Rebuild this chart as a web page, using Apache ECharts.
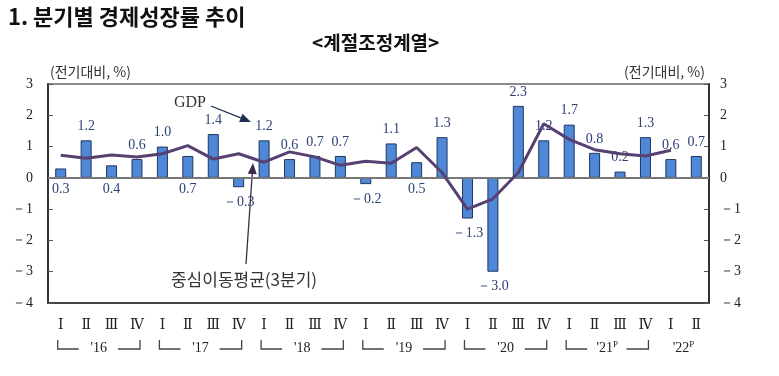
<!DOCTYPE html>
<html>
<head>
<meta charset="utf-8">
<title>분기별 경제성장률 추이</title>
<script src="https://cdn.jsdelivr.net/npm/echarts@6/dist/echarts.min.js"></script>
<style>
html, body { margin: 0; padding: 0; background: #fff; }
#chart { width: 779px; height: 376px; }
</style>
</head>
<body>
<div id="chart"></div>
<script>
// 분기 (2016 Ⅰ ~ 2022 Ⅱ)
var quarters = ['16.1', '16.2', '16.3', '16.4', '17.1', '17.2', '17.3', '17.4',
    '18.1', '18.2', '18.3', '18.4', '19.1', '19.2', '19.3', '19.4',
    '20.1', '20.2', '20.3', '20.4', '21.1', '21.2', '21.3', '21.4', '22.1', '22.2'];
var quarterNames = ['Ⅰ', 'Ⅱ', 'Ⅲ', 'Ⅳ'];
var years = ["'16", "'17", "'18", "'19", "'20", "'21", "'22"];
var yearMarks = ['', '', '', '', '', 'P', 'P'];

// GDP 전기대비 성장률 (%)
var gdp = [0.3, 1.2, 0.4, 0.6, 1.0, 0.7, 1.4, -0.3, 1.2, 0.6, 0.7, 0.7,
    -0.2, 1.1, 0.5, 1.3, -1.3, -3.0, 2.3, 1.2, 1.7, 0.8, 0.2, 1.3, 0.6, 0.7];

// 중심이동평균(3분기)
var movingAvg = [0.72, 0.63, 0.73, 0.67, 0.77, 1.03, 0.60, 0.77, 0.50, 0.83, 0.67, 0.40,
    0.53, 0.47, 0.97, 0.17, -1.00, -0.67, 0.17, 1.73, 1.23, 0.90, 0.77, 0.70, 0.88, null];

// 세로축 범위
var yMin = -4;
var yMax = 3;

// 막대 아래쪽에 값을 적는 분기
var labelBelow = [0, 2, 5, 14];

var serif = '"Liberation Serif", "DejaVu Serif", serif';
var hangul = '"Noto Sans CJK KR", sans-serif';

function fmtVal(v) {
    return v < 0 ? '－' + Math.abs(v).toFixed(1) : v.toFixed(1);
}

function fmtTick(v) {
    return v < 0 ? '－' + Math.abs(v) : '' + v;
}

function barData() {
    var list = [];
    for (var i = 0; i < gdp.length; i++) {
        var item = { value: gdp[i] };
        if (gdp[i] < 0) {
            item.label = { position: 'bottom', distance: 8 };
        } else if (labelBelow.indexOf(i) >= 0) {
            item.label = { position: 'bottom', distance: 4 };
        }
        list.push(item);
    }
    return list;
}

function arrow(x1, y1, x2, y2, color) {
    var ang = Math.atan2(y2 - y1, x2 - x1);
    var len = 11, half = 4.5;
    var bx = x2 - len * Math.cos(ang), by = y2 - len * Math.sin(ang);
    var px = -Math.sin(ang) * half, py = Math.cos(ang) * half;
    return [{
        type: 'line', silent: true,
        shape: { x1: x1, y1: y1, x2: bx, y2: by },
        style: { stroke: color, lineWidth: 1.3 }
    }, {
        type: 'polygon', silent: true,
        shape: { points: [[x2, y2], [bx + px, by + py], [bx - px, by - py]] },
        style: { fill: color }
    }];
}

var myChart = echarts.init(document.getElementById('chart'));

var yAxisBase = {
    type: 'value',
    min: yMin,
    max: yMax,
    interval: 1,
    axisLine: { show: true, lineStyle: { color: '#333', width: 2 } },
    axisTick: { show: true, inside: true, length: 5, lineStyle: { color: '#555' } },
    splitLine: { show: false },
    axisLabel: {
        formatter: fmtTick,
        color: '#222',
        fontFamily: serif,
        fontSize: 14
    },
    nameTextStyle: { color: '#333', fontFamily: hangul, fontSize: 14 }
};

myChart.setOption({
    animation: false,
    backgroundColor: '#fff',
    grid: {
        left: 48, right: 70, top: 84, bottom: 73,
        show: true, borderColor: '#666', borderWidth: 1.5
    },
    xAxis: {
        type: 'category',
        data: quarters,
        axisLine: { show: true, onZero: false, lineStyle: { color: '#444', width: 2 } },
        axisTick: { show: false },
        axisLabel: {
            margin: 15,
            color: '#222',
            fontFamily: serif,
            fontSize: 14,
            formatter: function (val, idx) {
                return quarterNames[idx % 4];
            }
        }
    },
    yAxis: [
        echarts.util.merge({
            position: 'left',
            name: '(전기대비, %)',
            nameGap: 5,
            nameTextStyle: { align: 'left', padding: [0, 0, 0, 2] },
            axisLabel: { margin: 15 }
        }, yAxisBase),
        echarts.util.merge({
            position: 'right',
            name: '(전기대비, %)',
            nameGap: 5,
            nameTextStyle: { align: 'right', padding: [0, 4, 0, 0] },
            axisLabel: { margin: 11 }
        }, yAxisBase)
    ],
    series: [{
        name: 'GDP',
        type: 'bar',
        barWidth: 11,
        itemStyle: { color: '#4f88d6', borderColor: '#1f3560', borderWidth: 1 },
        label: {
            show: true,
            position: 'top',
            distance: 7,
            formatter: function (p) { return fmtVal(p.value); },
            color: '#2d4177',
            fontFamily: serif,
            fontSize: 14
        },
        markLine: {
            silent: true,
            symbol: 'none',
            label: { show: false },
            lineStyle: { color: '#777', width: 2, type: 'solid' },
            data: [{ yAxis: 0 }]
        },
        data: barData(),
        z: 2
    }, {
        name: '중심이동평균(3분기)',
        type: 'line',
        data: movingAvg,
        showSymbol: false,
        symbol: 'none',
        lineStyle: { color: '#574172', width: 3 },
        z: 5
    }]
});

// 제목, 주석, 연도 구분선
var gfx = [{
    type: 'text', left: 8, top: 6,
    style: { text: '1. 분기별 경제성장률 추이', fontFamily: hangul, fontWeight: 'bold', fontSize: 22, fill: '#111' }
}, {
    type: 'text', left: 312, top: 33,
    style: { text: '<계절조정계열>', fontFamily: hangul, fontWeight: 'bold', fontSize: 19, fill: '#111' }
}, {
    type: 'text', x: 190, y: 103,
    style: { text: 'GDP', fontFamily: serif, fontSize: 16, fill: '#333', align: 'center', verticalAlign: 'middle' }
}, {
    type: 'text', x: 244, y: 280,
    style: { text: '중심이동평균(3분기)', fontFamily: hangul, fontSize: 17, fill: '#333', align: 'center', verticalAlign: 'middle' }
}];
gfx = gfx.concat(arrow(211, 106, 251, 122, '#1f2f50'));
gfx = gfx.concat(arrow(246, 264, 253, 163, '#3b2a4a'));

for (var k = 0; k < years.length; k++) {
    var first = k * 4;
    var last = Math.min(first + 3, quarters.length - 1);
    var x1 = myChart.convertToPixel({ xAxisIndex: 0 }, first) - 3;
    var x2 = myChart.convertToPixel({ xAxisIndex: 0 }, last) + 3;
    var mid = (x1 + x2) / 2;
    var yTop = 340, yLine = 349;
    if (last - first === 3) {
        gfx.push({
            type: 'polyline', silent: true,
            shape: { points: [[x1, yTop], [x1, yLine], [x1 + 21, yLine]] },
            style: { stroke: '#444', lineWidth: 1.3, fill: null }
        });
        gfx.push({
            type: 'polyline', silent: true,
            shape: { points: [[x2 - 22, yLine], [x2, yLine], [x2, yTop]] },
            style: { stroke: '#444', lineWidth: 1.3, fill: null }
        });
    }
    gfx.push({
        type: 'text', x: mid, y: 348,
        style: {
            text: years[k] + (yearMarks[k] ? '{sup|' + yearMarks[k] + '}' : ''),
            rich: { sup: { fontSize: 9, fontFamily: serif, fill: '#222', padding: [0, 0, 6, 0] } },
            fontFamily: serif, fontSize: 14, fill: '#222',
            align: 'center', verticalAlign: 'middle'
        }
    });
}

myChart.setOption({ graphic: gfx });
</script>
</body>
</html>
